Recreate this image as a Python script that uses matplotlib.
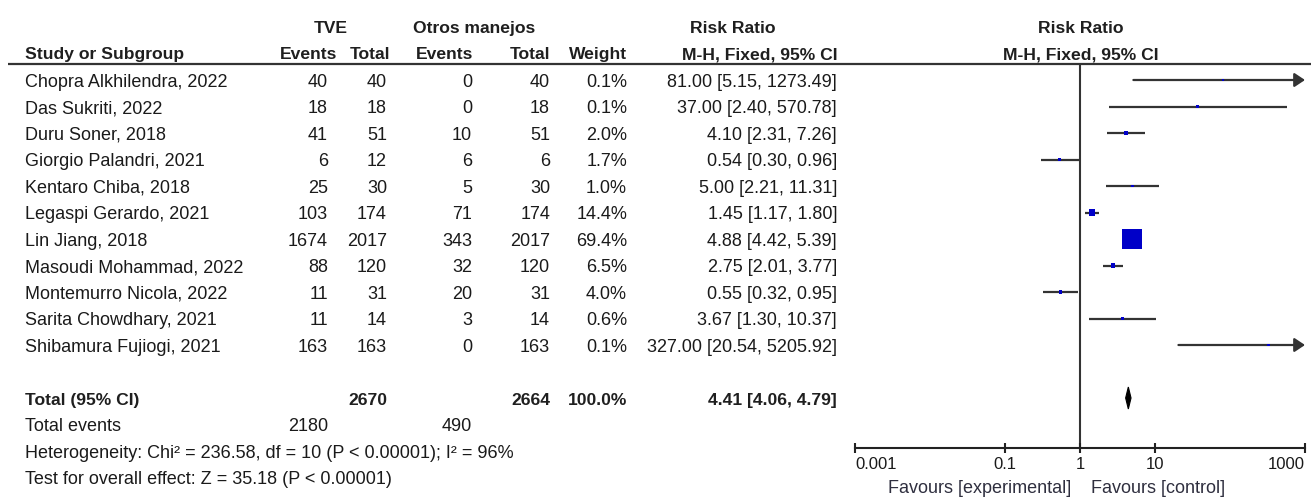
"""Forest plot: TVE vs Otros manejos, risk ratio (M-H, fixed)."""

import matplotlib

matplotlib.use("Agg")
import matplotlib.pyplot as plt
from matplotlib.patches import Polygon
from matplotlib.ticker import NullLocator

studies = [
    "Chopra Alkhilendra, 2022",
    "Das Sukriti, 2022",
    "Duru Soner, 2018",
    "Giorgio Palandri, 2021",
    "Kentaro Chiba, 2018",
    "Legaspi Gerardo, 2021",
    "Lin Jiang, 2018",
    "Masoudi Mohammad, 2022",
    "Montemurro Nicola, 2022",
    "Sarita Chowdhary, 2021",
    "Shibamura Fujiogi, 2021",
]
tve_events = [40, 18, 41, 6, 25, 103, 1674, 88, 11, 11, 163]
tve_totals = [40, 18, 51, 12, 30, 174, 2017, 120, 31, 14, 163]
otros_events = [0, 0, 10, 6, 5, 71, 343, 32, 20, 3, 0]
otros_totals = [40, 18, 51, 6, 30, 174, 2017, 120, 31, 14, 163]
weights = [0.1, 0.1, 2.0, 1.7, 1.0, 14.4, 69.4, 6.5, 4.0, 0.6, 0.1]
risk_ratios = [81.00, 37.00, 4.10, 0.54, 5.00, 1.45, 4.88, 2.75, 0.55, 3.67, 327.00]
ci_lows = [5.15, 2.40, 2.31, 0.30, 2.21, 1.17, 4.42, 2.01, 0.32, 1.30, 20.54]
ci_highs = [1273.49, 570.78, 7.26, 0.96, 11.31, 1.80, 5.39, 3.77, 0.95, 10.37, 5205.92]

total_tve = 2670
total_otros = 2664
total_weight = 100.0
total_rr = 4.41
total_low = 4.06
total_high = 4.79
total_events_tve = 2180
total_events_otros = 490
heterogeneity_text = "Heterogeneity: Chi² = 236.58, df = 10 (P < 0.00001); I² = 96%"
overall_effect_text = "Test for overall effect: Z = 35.18 (P < 0.00001)"

axis_ticks = [0.001, 0.1, 1, 10, 1000]
axis_tick_labels = ["0.001", "0.1", "1", "10", "1000"]
x_limits = (0.001, 1000)

# layout, in pixels of the 1311x498 output
W, H = 1311, 498
FIRST_ROW_Y = 80
ROW_STEP = 26.5
HEADER_LINE_Y = 64
AXIS_LINE_Y = 448
PLOT_LEFT, PLOT_RIGHT = 855, 1305

TEXT_COLOR = "#1a1a1a"
LINE_COLOR = "#333333"
BOX_COLOR = "#0000c8"
DATA_FONT = dict(family="Liberation Sans", fontsize=13, color=TEXT_COLOR)
HEAD_FONT = dict(family="Liberation Sans", fontsize=12.6, fontweight="bold", color="#1f1f1f")


def row_y(index: float) -> float:
    return FIRST_ROW_Y + ROW_STEP * index


def baseline(index: float) -> float:
    return row_y(index) + 6.5


def box_side_px(weight: float) -> float:
    return 2.5 + 17.5 * (weight / max(weights)) ** 0.9


fig = plt.figure(figsize=(W / 100, H / 100), dpi=100)
table_ax = fig.add_axes([0, 0, 1, 1])
table_ax.set_xlim(0, W)
table_ax.set_ylim(H, 0)
table_ax.axis("off")

# headers
table_ax.text(331, 33, "TVE", ha="center", va="baseline", **HEAD_FONT)
table_ax.text(474, 33, "Otros manejos", ha="center", va="baseline", **HEAD_FONT)
table_ax.text(733, 33, "Risk Ratio", ha="center", va="baseline", **HEAD_FONT)
table_ax.text(1081, 33, "Risk Ratio", ha="center", va="baseline", **HEAD_FONT)
table_ax.text(25, 59, "Study or Subgroup", ha="left", va="baseline", **HEAD_FONT)
for x_right, label in [
    (337, "Events"),
    (390, "Total"),
    (473, "Events"),
    (550, "Total"),
    (627, "Weight"),
    (838, "M-H, Fixed, 95% CI"),
]:
    table_ax.text(x_right, 59, label, ha="right", va="baseline", **HEAD_FONT)
table_ax.text(1081, 59, "M-H, Fixed, 95% CI", ha="center", va="baseline", **HEAD_FONT)
table_ax.plot([8, W], [HEADER_LINE_Y, HEADER_LINE_Y], color=LINE_COLOR, lw=1.6,
              solid_capstyle="butt")

# study rows
for i, name in enumerate(studies):
    y = baseline(i)
    table_ax.text(25, y, name, ha="left", va="baseline", **DATA_FONT)
    cells = [
        (328, f"{tve_events[i]}"),
        (387, f"{tve_totals[i]}"),
        (472, f"{otros_events[i]}"),
        (550, f"{otros_totals[i]}"),
        (627, f"{weights[i]:.1f}%"),
        (837, f"{risk_ratios[i]:.2f} [{ci_lows[i]:.2f}, {ci_highs[i]:.2f}]"),
    ]
    for x_right, label in cells:
        table_ax.text(x_right, y, label, ha="right", va="baseline", **DATA_FONT)

# totals
y = baseline(12)
table_ax.text(25, y, "Total (95% CI)", ha="left", va="baseline", **HEAD_FONT)
table_ax.text(387, y, f"{total_tve}", ha="right", va="baseline", **HEAD_FONT)
table_ax.text(550, y, f"{total_otros}", ha="right", va="baseline", **HEAD_FONT)
table_ax.text(627, y, f"{total_weight:.1f}%", ha="right", va="baseline", **HEAD_FONT)
table_ax.text(837, y, f"{total_rr:.2f} [{total_low:.2f}, {total_high:.2f}]",
              ha="right", va="baseline", **HEAD_FONT)
y = baseline(13)
table_ax.text(25, y, "Total events", ha="left", va="baseline", **DATA_FONT)
table_ax.text(328, y, f"{total_events_tve}", ha="right", va="baseline", **DATA_FONT)
table_ax.text(472, y, f"{total_events_otros}", ha="right", va="baseline", **DATA_FONT)
table_ax.text(25, baseline(14), heterogeneity_text, ha="left", va="baseline", **DATA_FONT)
table_ax.text(25, baseline(15), overall_effect_text, ha="left", va="baseline", **DATA_FONT)

favours_font = dict(family="Liberation Sans", fontsize=13, color="#2f2f3f")
table_ax.text(1071, 493, "Favours [experimental]", ha="right", va="baseline", **favours_font)
table_ax.text(1091, 493, "Favours [control]", ha="left", va="baseline", **favours_font)

# forest panel
forest_ax = fig.add_axes([
    PLOT_LEFT / W,
    (H - AXIS_LINE_Y) / H,
    (PLOT_RIGHT - PLOT_LEFT) / W,
    (AXIS_LINE_Y - HEADER_LINE_Y) / H,
])
forest_ax.set_facecolor("none")
forest_ax.set_xscale("log")
forest_ax.set_xlim(*x_limits)
forest_ax.set_ylim(AXIS_LINE_Y, HEADER_LINE_Y)
for side in ("top", "left", "right"):
    forest_ax.spines[side].set_visible(False)
forest_ax.spines["bottom"].set_linewidth(1.5)
forest_ax.spines["bottom"].set_color("#222222")
forest_ax.set_yticks([])
forest_ax.xaxis.set_minor_locator(NullLocator())
forest_ax.set_xticks(axis_ticks)
forest_ax.set_xticklabels(axis_tick_labels, family="Liberation Sans", fontsize=12,
                          color=TEXT_COLOR)
forest_ax.tick_params(axis="x", direction="inout", length=7, width=1.5,
                      color="#222222", pad=3)
tick_labels = forest_ax.get_xticklabels()
tick_labels[0].set_horizontalalignment("left")
tick_labels[-1].set_horizontalalignment("right")

forest_ax.axvline(1, color=LINE_COLOR, lw=1.5, zorder=1)

ys = [row_y(i) for i in range(len(studies))]
for y, low, high in zip(ys, ci_lows, ci_highs):
    if high > x_limits[1]:
        forest_ax.annotate(
            "",
            xy=(x_limits[1], y),
            xytext=(low, y),
            arrowprops=dict(arrowstyle="-|>,head_length=0.45,head_width=0.3",
                            color=LINE_COLOR, lw=1.6, shrinkA=0, shrinkB=0,
                            mutation_scale=14),
            annotation_clip=False,
        )
    else:
        forest_ax.hlines(y, low, high, color=LINE_COLOR, lw=1.6, zorder=2)

sizes = [(box_side_px(w) * 0.72) ** 2 for w in weights]
forest_ax.scatter(risk_ratios, ys, s=sizes, marker="s", color=BOX_COLOR,
                  linewidths=0, zorder=3, clip_on=False)

ty = row_y(12)
forest_ax.add_patch(Polygon(
    [(total_low, ty), (total_rr, ty - 11), (total_high, ty), (total_rr, ty + 11)],
    closed=True, facecolor="black", edgecolor="black", lw=0.8, zorder=3,
))

fig.savefig("out.png", dpi=100)
